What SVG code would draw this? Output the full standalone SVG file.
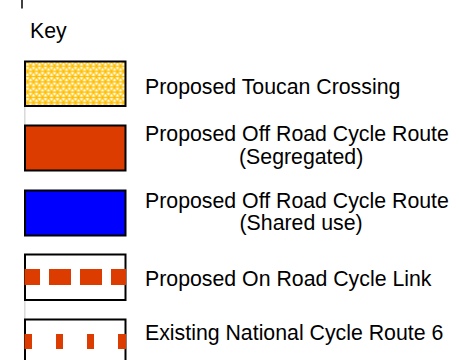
<svg xmlns="http://www.w3.org/2000/svg" width="459" height="360" viewBox="0 0 459 360">
  <style>
    .lbl { font-family: "Liberation Sans", Arial, sans-serif; font-size: 21.3px; fill: #000; }
    .box { stroke: #000; stroke-width: 2; }
    .guide { stroke: #d9d9d9; stroke-width: 1.5; }
    .dash { fill: #dc3c00; }
  </style>
  <defs>
    <pattern id="toucan" patternUnits="userSpaceOnUse" x="24.5" y="61" width="6" height="10.392">
      <rect x="0" y="0" width="6" height="10.392" fill="#ffbf00"/>
      <g fill="#fff">
        <polygon points="3,1.32 1.14,4.54 4.86,4.54"/>
        <polygon points="-1.86,0.66 1.86,0.66 0,3.88"/>
        <polygon points="4.14,0.66 7.86,0.66 6,3.88"/>
        <polygon points="0,6.52 -1.86,9.74 1.86,9.74"/>
        <polygon points="6,6.52 4.14,9.74 7.86,9.74"/>
        <polygon points="1.14,5.86 4.86,5.86 3,9.08"/>
      </g>
    </pattern>
  </defs>

  <g id="connectors">
    <line x1="22" y1="0" x2="22" y2="8.5" stroke="#000" stroke-width="1.5"/>
    <line class="guide" x1="24.8" y1="106" x2="24.8" y2="125"/>
    <line class="guide" x1="24.8" y1="300" x2="24.8" y2="319"/>
  </g>

  <g id="title">
    <text class="lbl" x="30" y="38">Key</text>
  </g>

  <g id="toucan-crossing">
    <rect class="box" x="25" y="61.5" width="100.5" height="44.5" fill="url(#toucan)"/>
    <text class="lbl" x="145" y="94">Proposed Toucan Crossing</text>
  </g>

  <g id="off-road-segregated">
    <rect class="box" x="25" y="125.5" width="100.5" height="45" fill="#dc3c00"/>
    <text class="lbl"><tspan x="145" y="141">Proposed Off Road Cycle Route</tspan><tspan x="239" y="163.5">(Segregated)</tspan></text>
  </g>

  <g id="off-road-shared">
    <rect class="box" x="25" y="190.5" width="100.5" height="45" fill="#0000ff"/>
    <text class="lbl"><tspan x="145" y="207.5">Proposed Off Road Cycle Route</tspan><tspan x="239.5" y="230">(Shared use)</tspan></text>
  </g>

  <g id="on-road-link">
    <rect class="box" x="25" y="254.5" width="100.5" height="45.5" fill="#fff"/>
    <rect class="dash" x="24.5" y="269" width="15.5" height="16"/>
    <rect class="dash" x="49" y="269" width="22" height="16"/>
    <rect class="dash" x="80" y="269" width="22" height="16"/>
    <rect class="dash" x="111" y="269" width="15" height="16"/>
    <text class="lbl" x="145" y="285.5">Proposed On Road Cycle Link</text>
  </g>

  <g id="national-route-6">
    <rect class="box" x="25" y="319.5" width="100.5" height="60" fill="#fff"/>
    <rect class="dash" x="24.5" y="334" width="7.5" height="15"/>
    <rect class="dash" x="56" y="334" width="7" height="15"/>
    <rect class="dash" x="87" y="334" width="7" height="15"/>
    <rect class="dash" x="118" y="334" width="8" height="15"/>
    <text class="lbl" x="145" y="340">Existing National Cycle Route 6</text>
  </g>
</svg>
